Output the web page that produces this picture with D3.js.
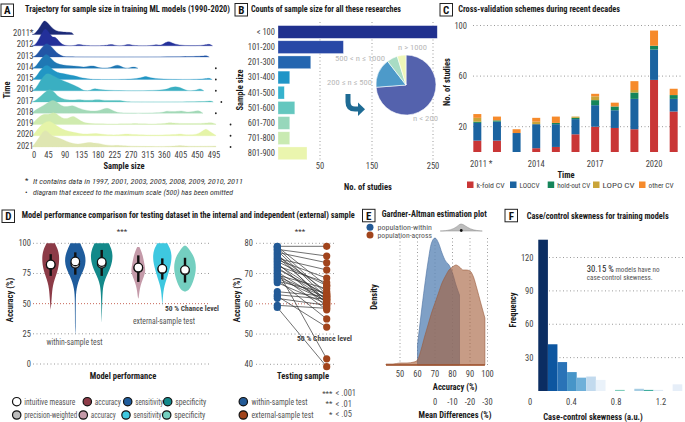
<!DOCTYPE html>
<html><head><meta charset="utf-8">
<script src="https://cdn.jsdelivr.net/npm/d3@7"></script>
<style>body{margin:0;background:#fff}svg{display:block}</style>
</head><body>
<script>
// ================= DATA =================
// Panel A: ridgelines (sample size, relative density)
const yearsA = ["2011*","2012","2013","2014","2015","2016","2017","2018","2019","2020","2021"];
const ridgeA = [
 [[0,0],[8,0.04],[20,0.35],[30,0.72],[36,0.78],[45,0.6],[55,0.35],[65,0.2],[80,0.14],[100,0.12],[110,0.1],[113,0]],
 [[0,0],[10,0.05],[22,0.5],[32,0.9],[38,0.97],[46,0.75],[55,0.45],[62,0.5],[68,0.4],[78,0.12],[90,0],[116,0],[128,0.1],[140,0],[203,0],[215,0.1],[227,0],[250,0],[262,0.1],[274,0],[327,0],[339,0.08],[351,0],[360,0.15],[375,0.28],[390,0],[469,0],[481,0.12],[491,0]],
 [[0,0],[10,0.05],[22,0.4],[35,0.72],[42,0.76],[52,0.6],[62,0.35],[72,0.15],[85,0.03],[95,0],[462,0],[472,0.1],[482,0]],
 [[0,0],[10,0.08],[22,0.45],[35,0.75],[40,0.78],[50,0.6],[60,0.35],[75,0.2],[95,0.15],[115,0.12],[130,0.1],[140,0.05],[155,0.12],[167,0.15],[182,0],[215,0],[232,0.25],[249,0],[264,0],[276,0.1],[288,0]],
 [[0,0],[10,0.1],[22,0.5],[35,0.78],[42,0.8],[52,0.65],[62,0.45],[75,0.35],[94,0.3],[112,0.22],[130,0.12],[144,0.06],[160,0.02],[170,0],[295,0],[309,0.25],[323,0],[470,0],[480,0.1],[490,0]],
 [[0,0],[10,0.1],[22,0.55],[35,0.9],[44,0.97],[55,0.85],[70,0.7],[85,0.55],[98,0.45],[115,0.3],[128,0.18],[136,0.05],[145,0],[158,0],[171,0.17],[184,0],[355,0],[370,0.12],[390,0.27],[410,0.12],[420,0],[445,0],[457,0.15],[467,0]],
 [[0,0],[10,0.08],[25,0.35],[40,0.62],[49,0.72],[58,0.6],[68,0.35],[80,0.2],[95,0.12],[110,0.1],[125,0.12],[131,0.14],[145,0.08],[165,0.1],[180,0.14],[195,0.08],[225,0.08],[239,0.1],[255,0.02],[265,0],[475,0],[484,0.08],[493,0]],
 [[0,0],[10,0.2],[25,0.35],[40,0.55],[52,0.7],[60,0.72],[72,0.55],[85,0.35],[100,0.38],[110,0.45],[120,0.35],[140,0.18],[160,0.12],[180,0.12],[195,0.25],[205,0.3],[215,0.2],[230,0.05],[245,0],[355,0],[366,0.15],[380,0.08],[395,0.1],[407,0.15],[420,0.05],[440,0.08],[452,0.18],[465,0]],
 [[0,0],[8,0.2],[20,0.45],[35,0.6],[48,0.55],[58,0.7],[70,0.55],[85,0.3],[100,0.35],[112,0.5],[125,0.3],[140,0.1],[160,0.05],[200,0.03],[270,0.03],[280,0.06],[290,0.03],[360,0.03],[375,0.12],[390,0.05],[470,0.05],[484,0.12],[500,0.03]],
 [[0,0],[8,0.15],[20,0.5],[35,0.75],[48,0.83],[60,0.65],[75,0.45],[90,0.3],[110,0.2],[130,0.12],[150,0.08],[176,0.15],[195,0.05],[240,0.04],[258,0.12],[275,0.04],[390,0.04],[402,0.12],[415,0.04],[450,0.05],[466,0.3],[475,0.4],[485,0.2],[500,0.03]],
 [[0,0],[8,0.2],[20,0.55],[30,0.85],[37,0.95],[45,0.8],[55,0.6],[65,0.55],[80,0.45],[95,0.3],[110,0.2],[125,0.15],[140,0.2],[158,0.28],[170,0.2],[180,0.22],[195,0.12],[215,0.08],[240,0.1],[255,0.06],[300,0.03],[390,0.03],[402,0.1],[415,0.03],[500,0.05]]
];
const omittedA = [["2014",500],["2015",500],["2016",500],["2017",515],["2018",500],["2019",540],["2020",540],["2021",540]];
const sizeTicksA = [0,45,90,135,180,225,270,315,360,405,450,495];

// Panel B
const sizeBins = ["< 100","101-200","201-300","301-400","401-500","501-600","601-700","701-800","801-900"];
const sizeCounts = [257,95,39,14,7.5,20,14,14,34.5];
const countTicks = [50,150,250];
const pieLabels = ["n < 200","200 ≤ n ≤ 500","500 < n ≤ 1000","n > 1000"];
const pieShares = [73.8,15.7,5.8,4.7];

// Panel C
const cvYears = [2011,2012,2013,2014,2015,2016,2017,2018,2019,2020,2021];
const cvSchemes = ["k-fold CV","LOOCV","hold-out CV","LOPO CV","other CV"];
const kfold   = [9,9,0,3,4,14,20,19,18,57,32];
const loocv   = [14,15,15,19,18,12,17,14,24,24,10];
const holdout = [1,1,0,0,1,1,4,3,5,3,3];
const lopo    = [3,0,0,2,0,1,3,0,2,0,0];
const otherCV = [3,3,3,3,5,0,2,3,7,12,5];
const cvTicks = [20,60,100];
const cvTickYears = [2011,2014,2017,2020];

// Panel D (left): violins
const perfNames = ["accuracy","sensitivity","specificity","accuracy","sensitivity","specificity"];
const perfMean = [82.5,85,84.5,80,79,78];
const perfWeighted = [82,83,83,79.5,78.5,77.5];
const perfLow = [73,74,73,68,70,67.5];
const perfHigh = [91,92.5,94.5,90,87.5,88];
const violinDens = [
 [[45,0],[50,0.05],[55,0.09],[60,0.13],[65,0.2],[70,0.35],[75,0.55],[80,0.7],[85,0.77],[90,0.77],[95,0.65],[100,0.38]],
 [[24,0],[30,0.03],[40,0.03],[50,0.04],[55,0.05],[60,0.08],[65,0.18],[70,0.35],[75,0.6],[80,0.85],[85,0.95],[90,0.9],[95,0.7],[100,0.45]],
 [[34,0],[40,0.02],[50,0.04],[60,0.08],[65,0.15],[70,0.3],[75,0.55],[80,0.8],[85,0.95],[90,1.0],[95,0.9],[100,0.65]],
 [[54,0],[55,0.04],[60,0.1],[65,0.2],[70,0.4],[75,0.6],[78,0.65],[83,0.55],[88,0.45],[93,0.3],[97,0.1]],
 [[48,0],[55,0.05],[60,0.1],[65,0.2],[70,0.38],[75,0.55],[80,0.7],[85,0.82],[90,0.85],[95,0.75],[100,0.45]],
 [[60,0],[61,0.35],[65,0.6],[70,0.8],[75,0.95],[80,1.0],[85,0.95],[90,0.75],[95,0.4],[98,0.08]]
];
const accTicksD = [0,25,50,75,100];

// Panel D (right): paired accuracies
const withinAcc   = [79,78.9,78.5,78,77.6,77,76.5,76,75.5,75,74.5,74,73.5,73,72.5,72,71.5,71,70.5,70,69.5,69,68.5,68,67.5,67,64,63,62.5,61.8,59.5,58.8];
const externalAcc = [79,66,63,75.8,62,73.6,60,64,61,71.2,68.5,66,59,62.5,67,61.5,63,41.8,60.5,58,65,62,61,55,63.5,60,62.5,61.5,52.3,59.5,58.5,39.2];
const accTicksP = [40,50,60,70,80];

// Panel E: densities
const accWithin  = [60,62,64,66,68,70,72,74,76,78,80,82,84];
const denWithin  = [20,50,78,103,122,127,122,112,104,100,92,80,70];
const accAcross  = [42,46,50,54,58,60,62,64,66,68,70,72,74,76,78,80,82,84,86,88,90,92,94,96,98.5];
const denAcross  = [1,1,2,2,3,5,15,28,40,52,62,72,82,89,95,98,100,98,95,95,94,88,76,63,47];
const mdBoot     = [[-3,0],[-7,0.05],[-11,0.3],[-13.5,0.8],[-15,1],[-17,0.75],[-20,0.25],[-24,0.05],[-27,0]];
const mdPoint = -15;
const accTicksE = [50,60,70,80,90,100];
const mdTicks = [0,-10,-20,-30];

// Panel F: histogram
const skewEdges = [0.105,0.191,0.276,0.362,0.448,0.533,0.619,0.705,0.790,0.876,0.962,1.047,1.133,1.219,1.304,1.390];
const skewFreq  = [136,42,26,17,12,13,10,0,1,0,2,1,1,0,6];
const freqTicks = [30,60,90,120];
const skewTicks = [0,0.4,0.8,1.2];

// ================= DRAWING =================
const FONT = "'Liberation Sans Narrow','Roboto Condensed','DejaVu Sans Condensed','Arial Narrow',sans-serif";
const svg = d3.select("body").append("svg").attr("width",685).attr("height",422).style("background","#fff");

function T(x,y,s,o={}){
  const t = svg.append("text").attr("x",x).attr("y",y).text(s)
    .attr("font-family",FONT).attr("font-size",o.size||8.5).attr("fill",o.fill||"#4a4a4a")
    .attr("text-anchor",o.anchor||"start").attr("dominant-baseline","central");
  if(o.bold) t.attr("font-weight","bold");
  if(o.italic) t.attr("font-style","italic");
  if(o.w) t.attr("textLength",o.w).attr("lengthAdjust","spacingAndGlyphs");
  if(o.rot) t.attr("transform",`rotate(-90,${x},${y})`);
  return t;
}
function box(x,y,l){
  svg.append("rect").attr("x",x).attr("y",y).attr("width",12.5).attr("height",12.5)
    .attr("fill","#fff").attr("stroke","#222").attr("stroke-width",1);
  T(x+6.25,y+6.8,l,{size:11,bold:true,fill:"#111",anchor:"middle"});
}
function title(x,y,s,w){ T(x,y,s,{bold:true,fill:"#1a1a1a",size:8.5,w:w}); }
function hline(x1,x2,y,col,dash){ svg.append("line").attr("x1",x1).attr("x2",x2).attr("y1",y).attr("y2",y)
  .attr("stroke",col||"#9a9a9a").attr("stroke-width",1).attr("stroke-dasharray",dash||"1,2.5"); }
function vline(x,y1,y2,col){ svg.append("line").attr("x1",x).attr("x2",x).attr("y1",y1).attr("y2",y2)
  .attr("stroke",col||"#9a9a9a").attr("stroke-width",1).attr("stroke-dasharray","1,2.5"); }

// ---------- Panel A ----------
box(1,4,"A");
title(25,9,"Trajectory for sample size in training ML models (1990-2020)",205);
const xA = d3.scaleLinear().domain([0,495]).range([32,214]);
const yA = d3.scalePoint().domain(yearsA).range([34.5,147]);
const hA = d3.scaleLinear().domain([0,1]).range([0,18]);
const ridgeCol = ["#1b2a78","#23309a","#2256a6","#1f78b4","#2296c4","#3aafc2","#56c0bf","#a3d9b8","#d0ebaf","#e5f4a8","#dfe6b2"];
yearsA.forEach((yr,i)=>{
  const base = yA(yr);
  const area = d3.area().x(d=>xA(d[0])).y0(base).y1(d=>base-hA(d[1])).curve(d3.curveBasis);
  svg.append("path").attr("d",area(ridgeA[i])).attr("fill",ridgeCol[i]).attr("stroke",ridgeCol[i]).attr("stroke-width",0.3);
  T(33.5,base-1.5,yr,{anchor:"end",size:8.5,fill:"#444"});
});
omittedA.forEach(([yr,v])=>{
  svg.append("circle").attr("cx",xA(v)).attr("cy",yA(yr)).attr("r",0.9).attr("fill","#222");
});
sizeTicksA.forEach(v=>T(xA(v)+ (v===0?2:0),155,String(v),{anchor:"middle",size:8.5,fill:"#444"}));
T(6.5,90,"Time",{rot:true,bold:true,fill:"#1a1a1a",anchor:"middle",size:8.5});
T(124,166,"Sample size",{bold:true,fill:"#1a1a1a",anchor:"middle",size:8.5});
T(25,180.5,"*",{size:8,fill:"#222"});
T(33,181,"It contains data in 1997, 2001, 2003, 2005, 2008, 2009, 2010, 2011",{italic:true,size:7.5,fill:"#333",w:210});
T(25,190,".",{size:9,fill:"#222",bold:true});
T(33,192,"diagram that exceed to the maximum  scale (500) has been omitted",{italic:true,size:7.5,fill:"#333",w:200});

// ---------- Panel B ----------
box(235,3.5,"B");
title(251,9,"Counts of sample size for all these researches",150);
const xB = d3.scaleLinear().domain([0,50,150,250]).range([278,320,372,433]);
const yB = d3.scaleBand().domain(sizeBins).range([24.4,160.9]).paddingInner(0.16).paddingOuter(0.08);
const barColB = ["#20308e","#2848a6","#2466b0","#1f95c7","#36b2cd","#64c7bf","#97d7bb","#c9eab2","#eaf5ae"];
countTicks.forEach(v=>vline(xB(v),22,160));
sizeBins.forEach((b,i)=>{
  svg.append("rect").attr("x",xB(0)).attr("y",yB(b)).attr("width",xB(sizeCounts[i])-xB(0)).attr("height",yB.bandwidth())
    .attr("fill",barColB[i]).attr("stroke","#ffffff").attr("stroke-opacity",0.5).attr("stroke-width",0.6);
  T(275,yB(b)+yB.bandwidth()/2,b,{anchor:"end",size:8.5,fill:"#444"});
});
countTicks.forEach(v=>T(xB(v),166,String(v),{anchor:"middle",size:8.5,fill:"#444"}));
T(240,90,"Sample size",{rot:true,bold:true,fill:"#1a1a1a",anchor:"middle"});
T(368,187,"No. of studies",{bold:true,fill:"#1a1a1a",anchor:"middle"});
// pie
const pieCol = ["#5462ad","#4d9ac9","#a8dcc4","#eef6b8"];
const pie = d3.pie().sort(null).startAngle(0).endAngle(2*Math.PI)(pieShares);
const arc = d3.arc().innerRadius(0).outerRadius(30);
const pg = svg.append("g").attr("transform","translate(406,85)");
pg.selectAll("path").data(pie).join("path").attr("d",arc).attr("fill",(d,i)=>pieCol[i]).attr("stroke","#fff").attr("stroke-width",0.6);
T(398,47,pieLabels[3],{fill:"#b8b8b8",size:7.5,w:29});
T(335,58.5,pieLabels[2],{fill:"#b8b8b8",size:7.5,w:50});
T(327,82,pieLabels[1],{fill:"#b8b8b8",size:7.5,w:45});
T(413,118,pieLabels[0],{fill:"#b8b8b8",size:7.5,w:25});
// arrow
svg.append("path").attr("d","M348,94 L348,102 Q348,109 355,109 L359,109").attr("fill","none")
  .attr("stroke","#1e6b94").attr("stroke-width",5);
svg.append("path").attr("d","M358,102.5 L365,109.2 L358,116 Z").attr("fill","#1e6b94");

// ---------- Panel C ----------
box(440,3.5,"C");
title(458.3,9,"Cross-validation schemes during recent decades",161.7);
const xC = d3.scaleBand().domain(cvYears).range([467.5,683.5]).paddingInner(0.593).paddingOuter(0.2965);
const yC = d3.scaleLinear().domain([0,100]).range([152,25.5]);
cvTicks.forEach(v=>{ hline(473,683,yC(v)); T(467,yC(v),String(v),{anchor:"end",size:8.5,fill:"#444"}); });
const cvRows = cvYears.map((y,i)=>({year:y,"k-fold CV":kfold[i],"LOOCV":loocv[i],"hold-out CV":holdout[i],"LOPO CV":lopo[i],"other CV":otherCV[i]}));
const stackC = d3.stack().keys(cvSchemes)(cvRows);
const cvCol = ["#c93636","#1b63a0","#15855a","#c9a438","#f68a2b"];
stackC.forEach((layer,k)=>{
  svg.append("g").selectAll("rect").data(layer).join("rect")
    .attr("x",d=>xC(d.data.year)).attr("width",xC.bandwidth())
    .attr("y",d=>yC(d[1])).attr("height",d=>Math.max(0,yC(d[0])-yC(d[1])))
    .attr("fill",cvCol[k]);
});
cvTickYears.forEach(y=>T(xC(y)+xC.bandwidth()/2+(y===2011?4:0),163.5,y===2011?"2011 *":String(y),{anchor:"middle",size:8.5,fill:"#444"}));
T(566,175,"Time",{bold:true,fill:"#1a1a1a",anchor:"middle"});
T(446.5,82,"No. of studies",{rot:true,bold:true,fill:"#1a1a1a",anchor:"middle"});
const legX = [467,510,547.7,593,639];
const legW = [28,20,33,32,25];
cvSchemes.forEach((s,k)=>{
  svg.append("rect").attr("x",legX[k]).attr("y",181.5).attr("width",6.5).attr("height",6.5).attr("fill",cvCol[k]);
  T(legX[k]+9.5,185.3,s,{size:8,fill:"#444",w:legW[k]});
});

// ---------- Panel D left ----------
box(2,210,"D");
title(21.7,215,"Model performance comparison for testing dataset in the internal and independent (external) sample",333);
const yD = d3.scaleLinear().domain([0,100]).range([364,243.3]);
accTicksD.forEach(v=>{
  if(v!==50) hline(33,210,yD(v));
  T(31,yD(v),String(v),{anchor:"end",size:8.5,fill:"#444"});
});
hline(33,210,yD(50),"#c8685a","1,2");
const violinX = [50.7,75.3,101.7,138.3,162.3,185];
const violinCol = ["#8c3b47","#1f5c9c","#13898a","#c49aa9","#3ec8e0","#74cfc0"];
const wD = d3.scaleLinear().domain([0,1]).range([0,11]);
violinDens.forEach((dens,i)=>{
  const a = d3.area().y(d=>yD(d[0])).x0(d=>violinX[i]-wD(d[1])).x1(d=>violinX[i]+wD(d[1])).curve(d3.curveBasis);
  svg.append("path").attr("d",a(dens)).attr("fill",violinCol[i]);
});
violinX.forEach((x,i)=>{
  svg.append("line").attr("x1",x).attr("x2",x).attr("y1",yD(perfLow[i])).attr("y2",yD(perfHigh[i])).attr("stroke","#111").attr("stroke-width",2.4);
  svg.append("circle").attr("cx",x).attr("cy",yD(perfWeighted[i])).attr("r",4.3).attr("fill","#bdbdbd").attr("stroke","#111").attr("stroke-width",1.2);
  svg.append("circle").attr("cx",x).attr("cy",yD(perfMean[i])).attr("r",4.3).attr("fill","#fff").attr("stroke","#111").attr("stroke-width",1.2);
});
T(122,231.5,"***",{anchor:"middle",size:8,fill:"#333"});
T(165,308,"50 % Chance level",{bold:true,size:7.2,fill:"#444",w:54});
T(164,320.5,"external-sample test",{anchor:"middle",size:8.5,fill:"#555",w:62});
T(74.5,342,"within-sample test",{anchor:"middle",size:8.5,fill:"#555",w:56});
T(10,300,"Accuracy (%)",{rot:true,bold:true,fill:"#1a1a1a",anchor:"middle"});
T(123,376,"Model performance",{bold:true,fill:"#1a1a1a",anchor:"middle"});
// legend D
const legD1 = [[16.7,"#ffffff","intuitive measure",51],[87.3,violinCol[0],"accuracy",26],[127.7,violinCol[1],"sensitivity",28],[167.7,violinCol[2],"specificity",31]];
const legD2 = [[16.7,"#bdbdbd","precision-weighted",53],[83.3,violinCol[3],"accuracy",25],[126,violinCol[4],"sensitivity",28],[166.7,violinCol[5],"specificity",31]];
[[legD1,401.7],[legD2,415]].forEach(([items,y])=>items.forEach(([x,c,s,w])=>{
  svg.append("circle").attr("cx",x).attr("cy",y).attr("r",4.2).attr("fill",c).attr("stroke","#111").attr("stroke-width",1.2);
  T(x+7.5,y,s,{size:8.5,fill:"#555",w:w});
}));

// ---------- Panel D right ----------
const yP = d3.scaleLinear().domain([40,80]).range([364.3,243.3]);
accTicksP.forEach(v=>{
  if(v!==60) hline(256,335,yP(v));
  T(253,yP(v),String(v),{anchor:"end",size:8.5,fill:"#444"});
});
hline(256,335,yP(60),"#c8685a","1,2");
const xWithin = 277.3, xExt = 326.7;
withinAcc.forEach((w,i)=>{
  svg.append("line").attr("x1",xWithin).attr("x2",xExt).attr("y1",yP(w)).attr("y2",yP(externalAcc[i]))
    .attr("stroke","#333").attr("stroke-width",0.7);
});
withinAcc.forEach(w=>svg.append("circle").attr("cx",xWithin).attr("cy",yP(w)).attr("r",3.6).attr("fill","#235a96"));
externalAcc.forEach(e=>svg.append("circle").attr("cx",xExt).attr("cy",yP(e)).attr("r",3.6).attr("fill","#a1441c"));
T(300,231.5,"***",{anchor:"middle",size:8,fill:"#333"});
T(297,338.3,"50 % Chance level",{bold:true,size:7.2,fill:"#444",w:55});
T(236.5,300,"Accuracy (%)",{rot:true,bold:true,fill:"#1a1a1a",anchor:"middle"});
T(303,376,"Testing sample",{bold:true,fill:"#1a1a1a",anchor:"middle"});
[[401.7,"#235a96","within-sample test",56],[415,"#a1441c","external-sample test",62]].forEach(([y,c,s,w])=>{
  svg.append("circle").attr("cx",243.3).attr("cy",y).attr("r",4.2).attr("fill",c).attr("stroke","#111").attr("stroke-width",1.2);
  T(251.5,y,s,{size:8.5,fill:"#555",w:w});
});
[["***","< .001",393],["**","< .01",403.5],["*","< .05",414]].forEach(([a,b,y])=>{
  T(332.5,y,a,{anchor:"end",size:8,fill:"#444"});
  T(335.5,y,b,{size:8.5,fill:"#555"});
});

// ---------- Panel E ----------
box(362.5,209.3,"E");
title(381.7,214,"Gardner-Altman estimation plot",105);
const xE = d3.scaleLinear().domain([50,100]).range([400,487.5]);
const yE = d3.scaleLinear().domain([0,130]).range([365,235]);
accTicksE.forEach(v=>{ vline(xE(v),238,365); T(xE(v),374,String(v),{anchor:"middle",size:8.5,fill:"#444"}); });
function densPath(accs,dens){
  const pts = accs.map((a,i)=>[xE(a),yE(dens[i])]);
  const c = d3.line().curve(d3.curveMonotoneX)(pts).replace(/^M/,"L");
  return `M${xE(accs[0])},${yE(0)}${c}L${xE(accs[accs.length-1])},${yE(0)}Z`;
}
svg.append("path").attr("d",densPath(accWithin,denWithin)).attr("fill","#5f88b8").attr("fill-opacity",0.8).attr("stroke","#4d72a3").attr("stroke-width",0.6);
svg.append("path").attr("d",densPath(accAcross,denAcross)).attr("fill","#a5603c").attr("fill-opacity",0.62).attr("stroke","#9a5a3a").attr("stroke-width",0.6);
svg.append("line").attr("x1",xE(accAcross[0])).attr("x2",xE(accAcross[accAcross.length-1])).attr("y1",yE(0)).attr("y2",yE(0)).attr("stroke","#a0522d").attr("stroke-width",1.3);
// mean difference axis & bootstrap
const xMD = d3.scaleLinear().domain([0,-30]).range([xE(70),xE(100)]);
const hMD = d3.scaleLinear().domain([0,1]).range([231,223.5]);
const bootArea = d3.area().x(d=>xMD(d[0])).y0(231).y1(d=>hMD(d[1])).curve(d3.curveBasis);
svg.append("path").attr("d",bootArea(mdBoot)).attr("fill","#bdbdbd").attr("stroke","#8a8a8a").attr("stroke-width",0.5);
svg.append("circle").attr("cx",xMD(mdPoint)).attr("cy",230.5).attr("r",1.4).attr("fill","#111");
mdTicks.forEach(v=>T(xMD(v),401.7,String(v),{anchor:"middle",size:8.5,fill:"#444"}));
T(455,386.7,"Accuracy (%)",{bold:true,fill:"#1a1a1a",anchor:"middle"});
T(455,415,"Mean Differences (%)",{bold:true,fill:"#1a1a1a",anchor:"middle"});
T(374,297,"Density",{rot:true,bold:true,fill:"#1a1a1a",anchor:"middle"});
[[227.3,"#235a96","population-within"],[235,"#a1441c","population-across"]].forEach(([y,c,s])=>{
  svg.append("circle").attr("cx",370).attr("cy",y).attr("r",3.5).attr("fill",c);
  T(377.5,y,s,{size:8,fill:"#555",w:s.length*3.2});
});

// ---------- Panel F ----------
box(505,209.3,"F");
title(526.7,215.7,"Case/control skewness for training models",142);
const xF = d3.scaleLinear().domain([0,1.2]).range([526.5,661]);
const yF = d3.scaleLinear().domain([0,120]).range([391,257.5]);
freqTicks.forEach(v=>{ hline(549,685,yF(v)); T(533.5,yF(v),String(v),{anchor:"end",size:8.5,fill:"#444"}); });
const histCol = ["#0b2d62","#0d56a0","#2a73b7","#4795c8","#6fb0d9","#c2daee","#eaf2fa","#eef4fb","#7fcdbb","#ffffff","#a6cde3","#41ae9e","#dde9f5","#ffffff","#e6eef8"];
skewFreq.forEach((f,i)=>{
  svg.append("rect").attr("x",xF(skewEdges[i])).attr("width",xF(skewEdges[i+1])-xF(skewEdges[i]))
    .attr("y",yF(f)).attr("height",yF(0)-yF(f)).attr("fill",histCol[i]);
});
skewTicks.forEach(v=>T(xF(v)+(v===0?3.5:0),401.7,String(v),{anchor:"middle",size:8.5,fill:"#444"}));
T(513.3,310,"Frequency",{rot:true,bold:true,fill:"#1a1a1a",anchor:"middle"});
T(593,416.7,"Case-control skewness (a.u.)",{bold:true,fill:"#1a1a1a",anchor:"middle"});
T(586.7,269,"30.15 %",{size:9,fill:"#222",w:27});
T(615.5,269,"models have no",{size:8,fill:"#555",w:44});
T(586.7,277.3,"case-control skewness.",{size:8,fill:"#555",w:66});
</script>
</body></html>
